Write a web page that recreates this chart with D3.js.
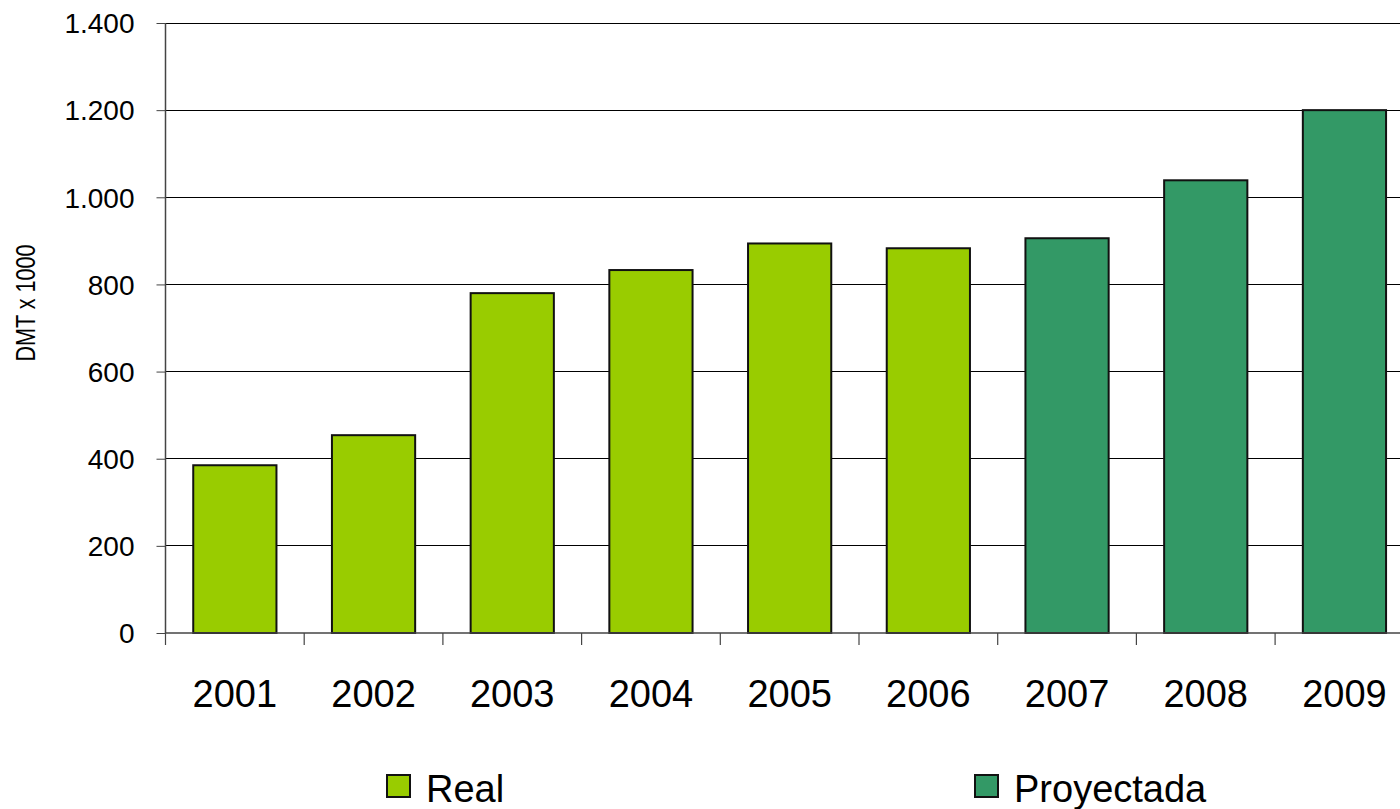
<!DOCTYPE html>
<html>
<head>
<meta charset="utf-8">
<script src="https://cdn.jsdelivr.net/npm/d3@7"></script>
<style>
html,body{margin:0;padding:0;background:#fff;overflow:hidden;}
text{font-family:"Liberation Sans",Arial,sans-serif;fill:#000;}
</style>
</head>
<body>
<svg id="chart" width="1400" height="809"></svg>
<script>
const years = ["2001","2002","2003","2004","2005","2006","2007","2008","2009"];
const values = [385, 454, 780, 833, 894, 883, 906, 1039, 1200];
const seriesOf = ["Real","Real","Real","Real","Real","Real","Proyectada","Proyectada","Proyectada"];
const seriesNames = ["Real","Proyectada"];
const seriesColors = ["#99CC00","#339966"];
const yTicks = [0,200,400,600,800,1000,1200,1400];
const yLabel = "DMT x 1000";

(function(){
const svg = d3.select("#chart");
const pLeft = 165.5, pRight = 1413.8, pTop = 23, pBottom = 633;

const x = d3.scaleBand().domain(years).range([pLeft, pRight]).paddingInner(0.4).paddingOuter(0.2);
const y = d3.scaleLinear().domain([0,1400]).range([pBottom, pTop]);
const color = d3.scaleOrdinal().domain(seriesNames).range(seriesColors);
const fmt = v => d3.format(",")(v).replace(/,/g, ".");

// gridlines
svg.append("g").selectAll("line").data(yTicks.filter(d => d > 0)).join("line")
  .attr("x1", pLeft).attr("x2", pRight)
  .attr("y1", d => y(d)).attr("y2", d => y(d))
  .attr("stroke", "#000").attr("stroke-width", 1).attr("shape-rendering","crispEdges");

// bars
svg.append("g").selectAll("rect").data(years).join("rect")
  .attr("x", d => x(d))
  .attr("width", x.bandwidth())
  .attr("y", (d,i) => y(values[i]))
  .attr("height", (d,i) => y(0) - y(values[i]))
  .attr("fill", (d,i) => color(seriesOf[i]))
  .attr("stroke", "#111").attr("stroke-width", 2);

// y axis
const yAxis = d3.axisLeft(y).tickValues(yTicks).tickSize(9).tickPadding(22).tickFormat(fmt);
const gy = svg.append("g").attr("transform", `translate(${pLeft},0)`).call(yAxis);
gy.attr("font-family", null).attr("font-size", null);
gy.select(".domain").attr("stroke", "#444").attr("stroke-width", 1.5).attr("d", `M0,${pTop}V${pBottom}`);
gy.selectAll(".tick line").attr("stroke", "#444");
gy.selectAll(".tick text").style("font-size", "28px").attr("dy", "0.35em");

// x axis
const gx = svg.append("g").attr("transform", `translate(0,${pBottom})`);
gx.append("line").attr("x1", pLeft).attr("x2", pRight).attr("y1", 0).attr("y2", 0)
  .attr("stroke", "#444").attr("stroke-width", 1.5);
const boundaries = years.map(d => x(d) - x.step()*x.paddingInner()/2);
gx.selectAll("line.tk").data(boundaries).join("line").attr("class","tk")
  .attr("x1", d => d).attr("x2", d => d).attr("y1", 0).attr("y2", 12)
  .attr("stroke", "#444").attr("stroke-width", 1.2);
gx.selectAll("text").data(years).join("text")
  .attr("x", d => x(d) + x.bandwidth()/2)
  .attr("y", 74)
  .attr("text-anchor", "middle")
  .style("font-size", "38px")
  .text(d => d);

// y label (glyphs are condensed along the text direction in the reference)
svg.append("text")
  .attr("transform", "translate(35,303) rotate(-90) scale(0.77,1)")
  .attr("text-anchor", "middle")
  .style("font-size", "28px")
  .text(yLabel);

// legend
const legendX = [387, 975];
const lg = svg.append("g").selectAll("g").data(seriesNames).join("g")
  .attr("transform", (d,i) => `translate(${legendX[i]},775)`);
lg.append("rect").attr("width", 23).attr("height", 22)
  .attr("fill", d => color(d)).attr("stroke", "#111").attr("stroke-width", 2);
lg.append("text").attr("x", 39).attr("y", 27).style("font-size", "38px").text(d => d);
})();
</script>
</body>
</html>
